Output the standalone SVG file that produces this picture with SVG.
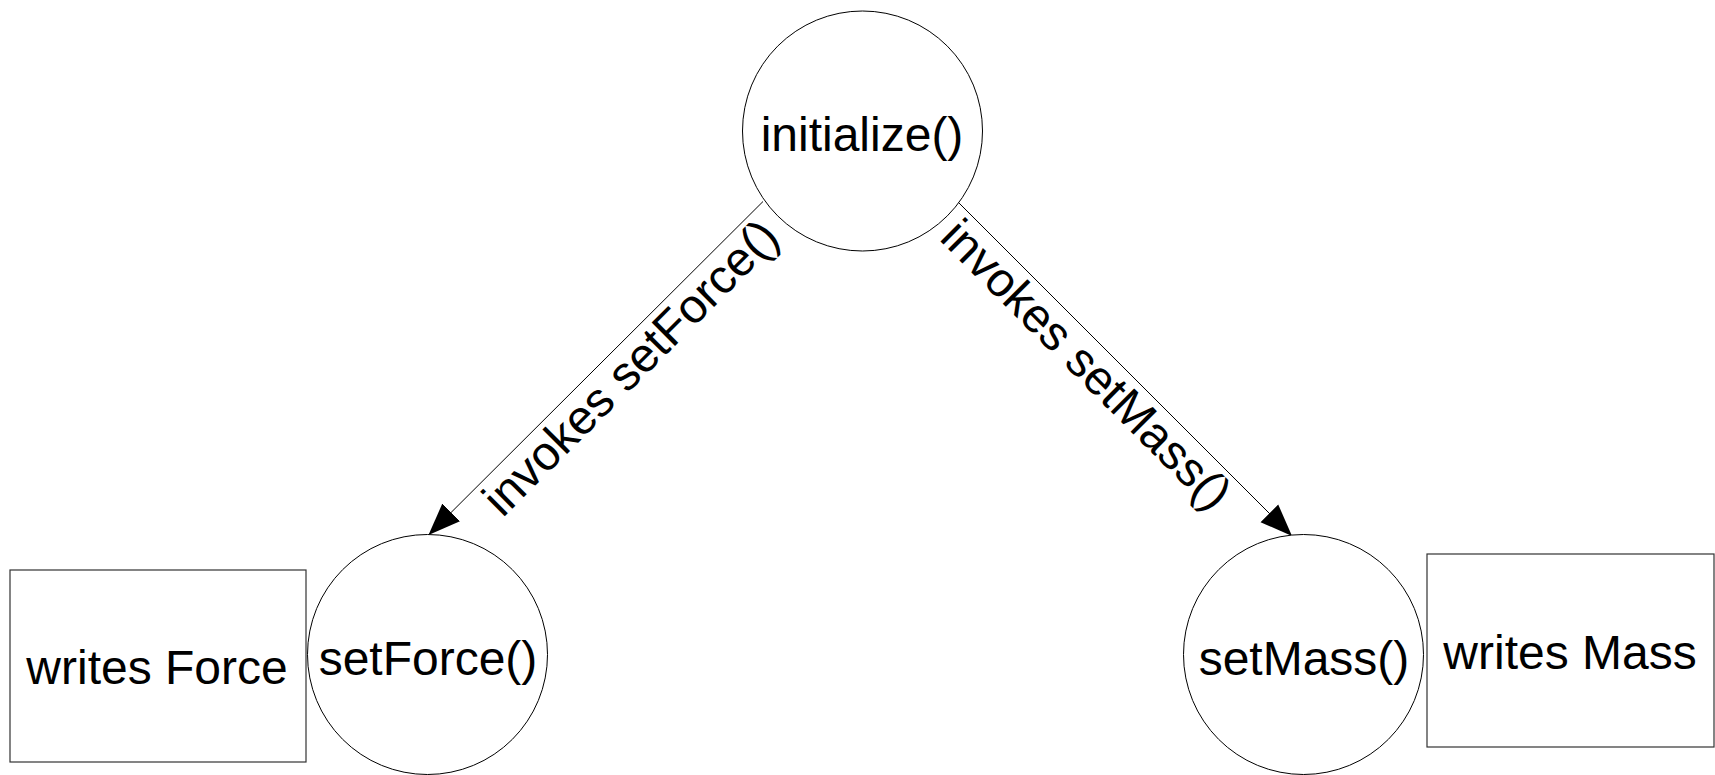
<svg xmlns="http://www.w3.org/2000/svg" width="1715" height="775" viewBox="0 0 1715 775">
<style>
.node{fill:#fff;stroke:#000;stroke-width:1}
.box{fill:#fff;stroke:#333;stroke-width:1.2}
.lbl{font-family:"Liberation Sans",Arial,sans-serif;font-size:48px;fill:#000;text-anchor:middle}
.edge{stroke:#000;stroke-width:1;fill:none}
</style>
<defs>
<marker id="arr" markerUnits="userSpaceOnUse" markerWidth="34" markerHeight="28" refX="32" refY="14" orient="auto" viewBox="0 0 34 28">
<path d="M0,1.5 L32,14 L0,26.5 Z" fill="#000"/>
</marker>
</defs>
<rect width="1715" height="775" fill="#fff"/>
<g id="connectors">
<g id="e1">
<line class="edge" x1="763" y1="201.5" x2="428.5" y2="535" marker-end="url(#arr)"/>
<text class="lbl" x="642" y="379" transform="rotate(-45 642 379)">invokes setForce()</text>
</g>
<g id="e2">
<line class="edge" x1="958" y1="202" x2="1292" y2="536" marker-end="url(#arr)"/>
<text class="lbl" x="1075" y="376" transform="rotate(45 1075 376)">invokes setMass()</text>
</g>
</g>
<g id="initialize">
<circle class="node" cx="862.5" cy="131" r="120"/>
<text class="lbl" x="862" y="151">initialize()</text>
</g>
<g id="setForce">
<circle class="node" cx="427.5" cy="654.5" r="120"/>
<text class="lbl" x="428" y="675">setForce()</text>
</g>
<g id="setMass">
<circle class="node" cx="1303.5" cy="654.5" r="120"/>
<text class="lbl" x="1304" y="675">setMass()</text>
</g>
<g id="writesForce">
<rect class="box" x="10" y="570" width="296" height="192"/>
<text class="lbl" x="157" y="684">writes Force</text>
</g>
<g id="writesMass">
<rect class="box" x="1427" y="554" width="287" height="193"/>
<text class="lbl" x="1570" y="669">writes Mass</text>
</g>
</svg>
